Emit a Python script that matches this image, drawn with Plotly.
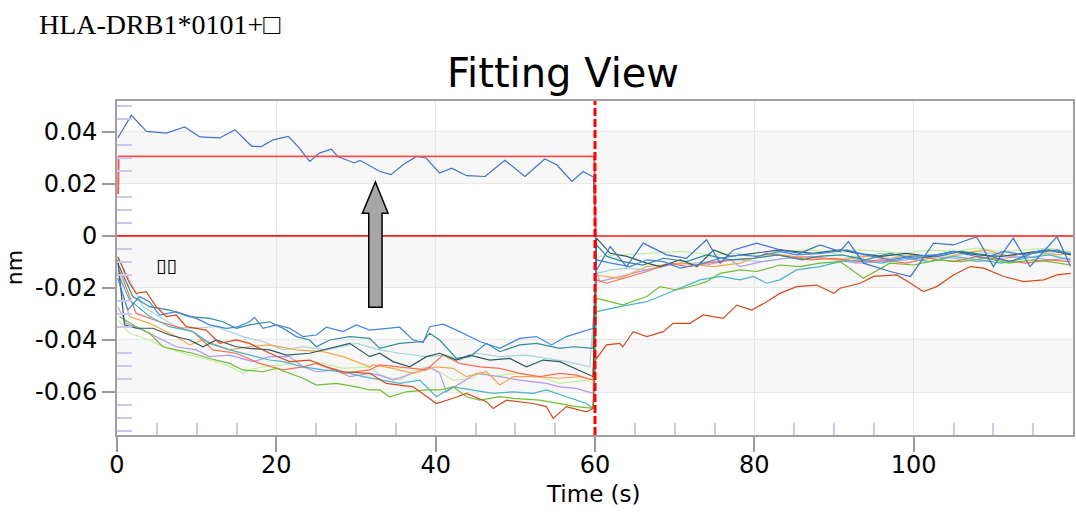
import plotly.graph_objects as go

# ---------------- axes / labels ----------------
X_RANGE = [0, 120]
Y_RANGE = [-0.0765, 0.0518]
Y_TICKS = [-0.06, -0.04, -0.02, 0, 0.02, 0.04]
Y_TICK_TEXT = ["-0.06", "-0.04", "-0.02", "0", "0.02", "0.04"]
X_TICKS = [0, 20, 40, 60, 80, 100]
X_TICK_TEXT = ["0", "20", "40", "60", "80", "100"]
X_MINOR = [5, 10, 15, 25, 30, 35, 45, 50, 55, 65, 70, 75, 85, 90, 95, 105, 110, 115]
Y_MINOR = [-0.075, -0.07, -0.065, -0.055, -0.05, -0.045, -0.035, -0.03, -0.025, -0.015, -0.01, -0.005,
           0.005, 0.01, 0.015, 0.025, 0.03, 0.035, 0.045, 0.05]
DISSOCIATION_START = 60
GRAY_BANDS = [(0.02, 0.04), (-0.02, 0.0), (-0.06, -0.04)]

# ---------------- fitted curves ----------------
FIT_ASSOC_T = [0.15, 0.2, 59.9, 60.1, 120]
FIT_ASSOC_Y = [0.016, 0.0305, 0.0305, 0.0, 0.0]
FIT_ZERO_T = [0, 120]
FIT_ZERO_Y = [0.0, 0.0]

# ---------------- measured sensorgrams (time s, response nm) ----------------
top_blue_t = [0.1, 1.8, 3.7, 6.2, 8.5, 10.4, 12.9, 14.8, 16.9, 18.1, 19.6, 21.5, 22.7, 24.2, 25.4, 26.9, 27.7,
              29.8, 30.5, 33, 34.4, 35.9, 37.6, 38.8, 40.5, 42, 43.9, 46.2, 48.7, 51.2, 53.7, 55.2, 57.1, 58.5, 59.8,
              60.2, 61.9, 63.96, 66.06, 69, 71.5, 74, 75.7, 77.4, 80.3, 83.2, 85.7, 88.25, 90.76, 91.8, 93.7, 97.05,
              99.6, 102.5, 105, 107.9, 110, 112.5, 114.6, 118, 119.7]
top_blue_y = [0.0376, 0.0463, 0.0401, 0.0395, 0.0418, 0.0380, 0.0376, 0.0408, 0.0344, 0.0343, 0.0369, 0.0382, 0.0344,
              0.0286, 0.0318, 0.0333, 0.0305, 0.0280, 0.0290, 0.0247, 0.0235, 0.0273, 0.0305, 0.0299, 0.0241, 0.0260,
              0.0231, 0.0228, 0.0290, 0.0228, 0.0295, 0.0273, 0.0209, 0.0247, 0.0226,
              -0.0131, -0.0041, -0.0118, -0.0028, -0.0073, -0.0086, -0.0015, -0.0105, -0.0054, -0.0028, -0.0054,
              -0.0067, -0.0035, -0.0060, -0.0022, -0.0105, -0.0137, -0.0156, -0.0028, -0.0035, -0.0003, -0.0118,
              -0.0009, -0.0118, -0.0003, -0.0118]

blue_t = [0.1, 1.36, 2.83, 4.08, 5.34, 7.43, 9.95, 11.62, 13.72, 14.97, 16.64, 17.27, 18.32, 20, 21.67, 23.35, 25.02,
          26.28, 28.37, 30.05, 31.72, 35.49, 37.16, 38.42, 39.25, 40.93, 43.02, 45.53, 48.05, 50.56, 52.65, 54.53,
          56.41, 59.76,
          60.2, 62, 64.4, 66.5, 68.6, 70.7, 72.8, 75.7, 78.2, 80.3, 83.2, 85.3, 88.3, 91.6, 94, 97, 99.6, 102.9, 105,
          108.8, 111.3, 113.8, 116.3, 119.7]
blue_y = [-0.0163, -0.0285, -0.0233, -0.0253, -0.0304, -0.0291, -0.0317, -0.0342, -0.0355, -0.0351, -0.0330, -0.0313,
          -0.0355, -0.0342, -0.0355, -0.0387, -0.0381, -0.0351, -0.0368, -0.0342, -0.0362, -0.0351, -0.0400, -0.0410,
          -0.0349, -0.0339, -0.0368, -0.0406, -0.0432, -0.0394, -0.0387, -0.0419, -0.0387, -0.0355,
          -0.0092, -0.0105, -0.0118, -0.0092, -0.0099, -0.0124, -0.0112, -0.0086, -0.0073, -0.0079, -0.0060, -0.0073,
          -0.0067, -0.0054, -0.0073, -0.0092, -0.0079, -0.0073, -0.0060, -0.0086, -0.0060, -0.0073, -0.0054, -0.0067]

teal_t = [0.1, 1.99, 4.08, 6.6, 9.11, 11.62, 13.3, 14.97, 16.64, 19.16, 20.83, 22.51, 24.18, 25.02, 26.7, 29.21, 31.72,
          32.97, 35.49, 38.42, 39.25, 40.51, 42.6, 44.28, 46.37, 48.05, 50.56, 52.65, 55.58, 57.25, 59.76,
          60.2, 61.5, 63.5, 66, 68.6, 71.5, 74, 77, 80, 83, 86, 88, 91, 94, 97, 100, 103, 106, 109, 112, 115, 118, 119.7]
teal_y = [-0.0105, -0.0233, -0.0272, -0.0285, -0.0310, -0.0317, -0.0330, -0.0355, -0.0342, -0.0330, -0.0355, -0.0387,
          -0.0400, -0.0426, -0.0400, -0.0387, -0.0394, -0.0432, -0.0413, -0.0406, -0.0374, -0.0400, -0.0471, -0.0464,
          -0.0413, -0.0445, -0.0419, -0.0413, -0.0432, -0.0426, -0.0432,
          -0.0035, -0.0079, -0.0099, -0.0112, -0.0086, -0.0099, -0.0073, -0.0092, -0.0086, -0.0073, -0.0092, -0.0079,
          -0.0073, -0.0092, -0.0067, -0.0086, -0.0079, -0.0060, -0.0073, -0.0099, -0.0067, -0.0054, -0.0073]

slate_t = [0.1, 0.94, 2.41, 4.5, 6.6, 9.11, 10.78, 12.46, 14.97, 16.64, 19.16, 21.25, 24.18, 27.53, 29.21, 31.72,
           32.97, 34.65, 36.74, 38.84, 40.51, 42.6, 44.28, 46.79, 49.3, 51.4, 53.49, 55.58, 59.76,
           60.2, 61.9, 64, 66.5, 68.2, 70.7, 72.8, 74.9, 77, 80.3, 83.2, 87.4, 90.8, 93, 96, 99, 102, 105, 108, 111,
           114, 117, 119.7]
slate_y = [-0.0092, -0.0342, -0.0355, -0.0355, -0.0381, -0.0400, -0.0426, -0.0400, -0.0426, -0.0432, -0.0438, -0.0458,
           -0.0451, -0.0426, -0.0413, -0.0464, -0.0451, -0.0483, -0.0503, -0.0464, -0.0451, -0.0477, -0.0458, -0.0477,
           -0.0471, -0.0503, -0.0477, -0.0483, -0.0541,
           -0.0009, -0.0067, -0.0079, -0.0105, -0.0118, -0.0092, -0.0118, -0.0054, -0.0079, -0.0067, -0.0054, -0.0067,
           -0.0054, -0.0067, -0.0079, -0.0067, -0.0079, -0.0060, -0.0073, -0.0079, -0.0067, -0.0054, -0.0073]

pale_cyan_t = [0.1, 3.25, 7.43, 9.11, 12.46, 15.8, 18.32, 20.83, 23.35, 26.28, 30.05, 31.72,
               32.97, 35.49, 38.84, 41.35, 43.02, 45.12, 48.05, 51.4, 53.9, 56.41, 59.34,
               60.2, 62, 64, 66.5, 69, 72, 75, 78, 81, 84, 87, 90, 93, 96, 99, 102, 105, 108, 111, 114, 117, 119.7]
pale_cyan_y = [-0.0080, -0.0272, -0.0349, -0.0355, -0.0349, -0.0387, -0.0406, -0.0438, -0.0426, -0.0438, -0.0413,
               -0.0426, -0.0438, -0.0451, -0.0464, -0.0458, -0.0477, -0.0451, -0.0464, -0.0458, -0.0471, -0.0483,
               -0.0503,
               -0.0144, -0.0131, -0.0124, -0.0131, -0.0112, -0.0105, -0.0099, -0.0092, -0.0099, -0.0086, -0.0079,
               -0.0092, -0.0079, -0.0067, -0.0086, -0.0073, -0.0079, -0.0060, -0.0073, -0.0086, -0.0067, -0.0060]

orange_t = [0.3, 1.57, 4.08, 7.43, 9.11, 10.78, 14.13, 16.64, 19.16, 22.51, 25.86, 28.37, 31.72,
            32.14, 34.65, 37.16, 40.09, 42.19, 43.86, 46.37, 48.05, 49.72, 52.23, 55.58, 58.09, 59.76,
            60.2, 61.45, 63.1, 66.5, 70.7, 74.9, 78.2, 81.55, 85, 88.3, 91, 94, 97, 100, 103, 106, 109, 112, 115,
            118, 119.7]
orange_y = [-0.0182, -0.0310, -0.0336, -0.0387, -0.0419, -0.0400, -0.0438, -0.0426, -0.0419, -0.0438, -0.0445,
            -0.0464, -0.0503, -0.0496, -0.0509, -0.0528, -0.0503, -0.0509, -0.0541, -0.0522, -0.0573, -0.0541,
            -0.0541, -0.0547, -0.0541, -0.0554,
            -0.0150, -0.0157, -0.0163, -0.0118, -0.0105, -0.0118, -0.0105, -0.0067, -0.0079, -0.0086, -0.0092,
            -0.0079, -0.0086, -0.0073, -0.0092, -0.0067, -0.0054, -0.0079, -0.0060, -0.0073, -0.0067]

red_t = [0.1, 1.57, 2.41, 3.66, 4.92, 6.18, 7.43, 8.69, 11.2, 12.88, 14.97, 16.64, 19.16, 21.67, 24.18, 26.28, 28.37,
         31.72, 33.81, 37.16, 40.09, 42.19, 43.86, 46.37, 47.21, 48.88, 52.23, 53.9, 54.74, 56.41, 58.93, 59.76,
         60.05, 61.45, 63.1, 63.5, 64.8, 66.5, 68.57, 69.8, 71.9, 73.6, 76.1, 77.8, 79.7, 81.55, 83.2, 85.3, 87.8,
         90, 90.76, 91.6, 93.3, 94.96, 97.9, 99.6, 101.2, 102.9, 105, 107.1, 108.8, 111.3, 113.8, 116.3, 118, 119.7]
red_y = [-0.0080, -0.0182, -0.0221, -0.0214, -0.0272, -0.0310, -0.0304, -0.0349, -0.0362, -0.0413, -0.0400, -0.0413,
         -0.0451, -0.0483, -0.0477, -0.0503, -0.0522, -0.0528, -0.0567, -0.0580, -0.0644, -0.0624, -0.0605, -0.0637,
         -0.0663, -0.0631, -0.0644, -0.0656, -0.0701, -0.0656, -0.0676, -0.0663,
         -0.0477, -0.0419, -0.0413, -0.0426, -0.0368, -0.0387, -0.0368, -0.0336, -0.0336, -0.0304, -0.0317, -0.0266,
         -0.0285, -0.0253, -0.0221, -0.0195, -0.0189, -0.0221, -0.0201, -0.0195, -0.0182, -0.0156, -0.0150, -0.0182,
         -0.0214, -0.0195, -0.0150, -0.0118, -0.0124, -0.0156, -0.0176, -0.0169, -0.0150, -0.0144]

coral_t = [0.3, 2.41, 5.34, 9.53, 12.04, 14.97, 17.9, 20.83, 23.35, 25.02, 28.37, 31.72,
           32.97, 35.49, 38.84, 40.93, 43.02, 45.53, 48.05, 50.56, 53.07, 55.58, 57.67, 59.76,
           60.2, 61.45, 63.5, 66.5, 69.4, 71.5, 74, 77, 80, 81.55, 84, 87, 90, 93, 96, 99, 102, 105, 108, 111, 114,
           117, 119.7]
coral_y = [-0.0131, -0.0298, -0.0330, -0.0368, -0.0438, -0.0451, -0.0490, -0.0515, -0.0503, -0.0490, -0.0528, -0.0515,
           -0.0496, -0.0503, -0.0515, -0.0458, -0.0490, -0.0503, -0.0509, -0.0528, -0.0541, -0.0528, -0.0535, -0.0554,
           -0.0169, -0.0182, -0.0163, -0.0137, -0.0105, -0.0118, -0.0105, -0.0092, -0.0086, -0.0067, -0.0079, -0.0092,
           -0.0086, -0.0099, -0.0092, -0.0105, -0.0086, -0.0099, -0.0079, -0.0092, -0.0105, -0.0092, -0.0099]

lavender_t = [0.1, 1.15, 3.25, 5.76, 7.43, 9.95, 11.62, 14.13, 17.06, 19.16, 21.67, 23.35, 25.02, 27.53, 29.21, 31.72,
              32.97, 34.65, 37.16, 39.25, 40.51, 41.35, 43.02, 45.12, 48.05, 50.56, 53.9, 55.58, 57.67, 59.76,
              60.2, 60.6, 63.1, 66.5, 70.7, 74, 77, 78.2, 81, 84, 87.4, 90, 93, 96, 99, 102, 105, 108, 111, 114, 117,
              119.7]
lavender_y = [-0.0272, -0.0336, -0.0362, -0.0400, -0.0426, -0.0438, -0.0464, -0.0458, -0.0483, -0.0464, -0.0464,
              -0.0503, -0.0522, -0.0515, -0.0541, -0.0528, -0.0535, -0.0554, -0.0528, -0.0503, -0.0528, -0.0599,
              -0.0567, -0.0528, -0.0541, -0.0554, -0.0567, -0.0580, -0.0586, -0.0605,
              -0.0137, -0.0176, -0.0156, -0.0131, -0.0105, -0.0112, -0.0092, -0.0118, -0.0099, -0.0086, -0.0079,
              -0.0092, -0.0105, -0.0099, -0.0092, -0.0079, -0.0086, -0.0099, -0.0086, -0.0079, -0.0092, -0.0086]

light_green_t = [0.1, 1.57, 4.08, 5.76, 9.11, 11.62, 13.72, 14.97, 15.8, 16.64, 18.32, 20.83, 23.35, 25.86, 28.37,
                 31.72, 32.97, 35.49, 37.16, 38.84, 40.51, 42.19, 44.7, 45.53, 47.21, 49.72, 53.07, 55.58, 58.93,
                 59.76,
                 60.2, 60.6, 63, 66.5, 70.7, 74.9, 78, 81, 84, 87, 90, 93, 96, 99, 102, 105, 108, 111, 114, 117, 119.7]
light_green_y = [-0.0323, -0.0374, -0.0400, -0.0426, -0.0458, -0.0477, -0.0496, -0.0515, -0.0528, -0.0515, -0.0503,
                 -0.0496, -0.0477, -0.0490, -0.0509, -0.0503, -0.0535, -0.0554, -0.0522, -0.0503, -0.0522, -0.0554,
                 -0.0547, -0.0522, -0.0541, -0.0528, -0.0541, -0.0567, -0.0554, -0.0567,
                 -0.0086, -0.0079, -0.0073, -0.0067, -0.0060, -0.0073, -0.0067, -0.0079, -0.0060, -0.0054, -0.0067,
                 -0.0054, -0.0060, -0.0067, -0.0054, -0.0060, -0.0047, -0.0060, -0.0054, -0.0047, -0.0060]

green_t = [0.3, 2.41, 4.08, 5.76, 7.43, 9.53, 11.62, 14.13, 15.8, 18.32, 20, 21.67, 23.35, 25.02, 27.53, 30.05, 31.72,
           32.97, 34.23, 36.32, 38.84, 40.51, 42.19, 43.86, 45.53, 48.05, 49.72, 53.07, 55.58, 57.67, 59.76,
           60.2, 63.5, 66.5, 68.15, 70.25, 72.76, 74.0, 75.7, 78.2, 80.3, 83.2, 85.7, 88.25, 90.76, 93.7, 97, 100,
           103, 106, 109, 112, 115, 117, 119.7]
green_y = [-0.0310, -0.0349, -0.0374, -0.0426, -0.0438, -0.0451, -0.0471, -0.0490, -0.0515, -0.0522, -0.0509, -0.0528,
           -0.0547, -0.0573, -0.0567, -0.0580, -0.0592, -0.0592, -0.0618, -0.0599, -0.0592, -0.0592, -0.0580, -0.0618,
           -0.0631, -0.0618, -0.0624, -0.0631, -0.0644, -0.0656, -0.0663,
           -0.0240, -0.0265, -0.0233, -0.0195, -0.0208, -0.0188, -0.0176, -0.0144, -0.0131, -0.0137, -0.0112, -0.0118,
           -0.0105, -0.0099, -0.0163, -0.0105, -0.0112, -0.0092, -0.0099, -0.0086, -0.0105, -0.0092, -0.0099, -0.0112]

cyan_t = [0.1, 1.57, 4.08, 6.6, 9.53, 11.62, 14.13, 16.64, 19.16, 20.83, 23.35, 25.86, 28.37, 30.88,
          32.97, 35.49, 38.0, 40.09, 42.19, 44.7, 47.21, 49.72, 52.23, 53.9, 56.41, 58.93, 59.76,
          60.2, 63.1, 66.5, 68.57, 70.67, 73.18, 75.7, 78.2, 79.9, 81.55, 83.2, 85.3, 88.25, 90.76, 93, 96, 99, 102,
          105, 108, 111, 114, 117, 119.7]
cyan_y = [-0.0144, -0.0246, -0.0310, -0.0349, -0.0368, -0.0413, -0.0438, -0.0458, -0.0477, -0.0483, -0.0503, -0.0515,
          -0.0522, -0.0541, -0.0554, -0.0567, -0.0554, -0.0618, -0.0580, -0.0592, -0.0605, -0.0599, -0.0605, -0.0592,
          -0.0618, -0.0644, -0.0663,
          -0.0291, -0.0272, -0.0253, -0.0227, -0.0201, -0.0169, -0.0156, -0.0169, -0.0156, -0.0182, -0.0169, -0.0131,
          -0.0118, -0.0099, -0.0092, -0.0105, -0.0086, -0.0099, -0.0079, -0.0092, -0.0105, -0.0086, -0.0073, -0.0092]

SERIES = [
    (pale_cyan_t, pale_cyan_y, "#a6d4dc"),
    (light_green_t, light_green_y, "#c2ef9e"),
    (lavender_t, lavender_y, "#b597ea"),
    (orange_t, orange_y, "#f5a64a"),
    (coral_t, coral_y, "#ff6d52"),
    (cyan_t, cyan_y, "#45b5c8"),
    (green_t, green_y, "#6cbd30"),
    (teal_t, teal_y, "#2f8c9b"),
    (slate_t, slate_y, "#2c5a5b"),
    (blue_t, blue_y, "#4284e6"),
    (red_t, red_y, "#d24a1c"),
    (top_blue_t, top_blue_y, "#3d73c9"),
]

# arrow decoration (data coordinates)
ARROW_TIP = (32.44, 0.0207)
ARROW_HEAD_BASE_Y = 0.0087
ARROW_HEAD_X = (30.80, 34.02)
ARROW_SHAFT_X = (31.60, 33.27)
ARROW_BOTTOM_Y = -0.0274

fig = go.Figure()

for t, y, c in SERIES:
    fig.add_trace(go.Scatter(x=t, y=y, mode="lines", line=dict(color=c, width=1.2), hoverinfo="skip"))

fig.add_trace(go.Scatter(x=FIT_ZERO_T, y=FIT_ZERO_Y, mode="lines", line=dict(color="#ff1a1a", width=1.8),
                         hoverinfo="skip"))
fig.add_trace(go.Scatter(x=FIT_ASSOC_T, y=FIT_ASSOC_Y, mode="lines", line=dict(color="#ff4d4d", width=1.8),
                         hoverinfo="skip"))

shapes = []
for lo, hi in GRAY_BANDS:
    shapes.append(dict(type="rect", xref="paper", x0=0, x1=1, yref="y", y0=lo, y1=hi,
                       fillcolor="#f7f7f7", line=dict(width=0), layer="below"))
shapes.append(dict(type="line", xref="x", x0=DISSOCIATION_START, x1=DISSOCIATION_START, yref="paper", y0=0, y1=1,
                   line=dict(color="#ff0000", width=3, dash="8px,3px"), layer="above"))
ax, ay = ARROW_TIP
path = (f"M {ax},{ay} L {ARROW_HEAD_X[1]},{ARROW_HEAD_BASE_Y} L {ARROW_SHAFT_X[1]},{ARROW_HEAD_BASE_Y} "
        f"L {ARROW_SHAFT_X[1]},{ARROW_BOTTOM_Y} L {ARROW_SHAFT_X[0]},{ARROW_BOTTOM_Y} "
        f"L {ARROW_SHAFT_X[0]},{ARROW_HEAD_BASE_Y} L {ARROW_HEAD_X[0]},{ARROW_HEAD_BASE_Y} Z")
shapes.append(dict(type="path", path=path, xref="x", yref="y", fillcolor="#a6a6a6",
                   line=dict(color="#000000", width=1.5), layer="above"))

axis_font = dict(family="DejaVu Sans, Arial, sans-serif", size=24, color="#000000")

annotations = [
    dict(text="Fitting View", xref="paper", yref="paper", x=0.4665, y=1.085, xanchor="center", yanchor="middle",
         showarrow=False, font=dict(family="DejaVu Sans, Arial, sans-serif", size=40, color="#000000")),
    dict(text="HLA-DRB1*0101+\u25a1", xref="paper", yref="paper", x=-0.0835, y=1.2287, xanchor="left",
         yanchor="middle", showarrow=False,
         font=dict(family="Liberation Serif, Times New Roman, serif", size=28, color="#000000")),
    dict(text="Time (s)", xref="paper", yref="paper", x=0.4985, y=-0.177, xanchor="center", yanchor="middle",
         showarrow=False, font=dict(family="DejaVu Sans, Arial, sans-serif", size=23, color="#000000")),
    dict(text="nm", xref="paper", yref="paper", x=-0.1075, y=0.5, xanchor="center", yanchor="middle",
         textangle=-90, showarrow=False,
         font=dict(family="DejaVu Sans, Arial, sans-serif", size=22, color="#000000")),
    dict(text="\u25af\u25af", xref="x", yref="y", x=6.2, y=-0.0112, xanchor="center", yanchor="middle",
         showarrow=False, font=dict(family="DejaVu Sans, sans-serif", size=19, color="#000000")),
]

fig.update_layout(
    width=1076, height=512,
    margin=dict(l=117, r=3, t=101, b=77),
    paper_bgcolor="#ffffff", plot_bgcolor="#ffffff",
    showlegend=False, hovermode=False,
    shapes=shapes, annotations=annotations,
    xaxis=dict(range=X_RANGE, tickmode="array", tickvals=X_TICKS, ticktext=X_TICK_TEXT,
               ticks="outside", ticklen=15, tickwidth=1.5, tickcolor="#9a9a9a", ticklabelstandoff=-8,
               showline=True, linecolor="#a0a0a0", linewidth=2, mirror=True,
               showgrid=True, gridcolor="#e6e6e6", gridwidth=1, zeroline=False,
               tickfont=axis_font, automargin=False,
               minor=dict(tickmode="array", tickvals=X_MINOR, ticks="inside", ticklen=12,
                          tickcolor="#c8c8f0", tickwidth=1.5, showgrid=False)),
    yaxis=dict(range=Y_RANGE, tickmode="array", tickvals=Y_TICKS, ticktext=Y_TICK_TEXT,
               ticks="outside", ticklen=13, tickwidth=1.5, tickcolor="#9a9a9a",
               showline=True, linecolor="#a0a0a0", linewidth=2, mirror=True,
               showgrid=True, gridcolor="#e8e8e8", gridwidth=1, zeroline=False,
               tickfont=axis_font, automargin=False,
               minor=dict(tickmode="array", tickvals=Y_MINOR, ticks="inside", ticklen=15,
                          tickcolor="#c8c8f0", tickwidth=1.5, showgrid=False)),
)

fig.write_html("out.html", config={"displayModeBar": False},
               post_script="document.body.style.margin='0px';document.body.style.overflow='hidden';")
